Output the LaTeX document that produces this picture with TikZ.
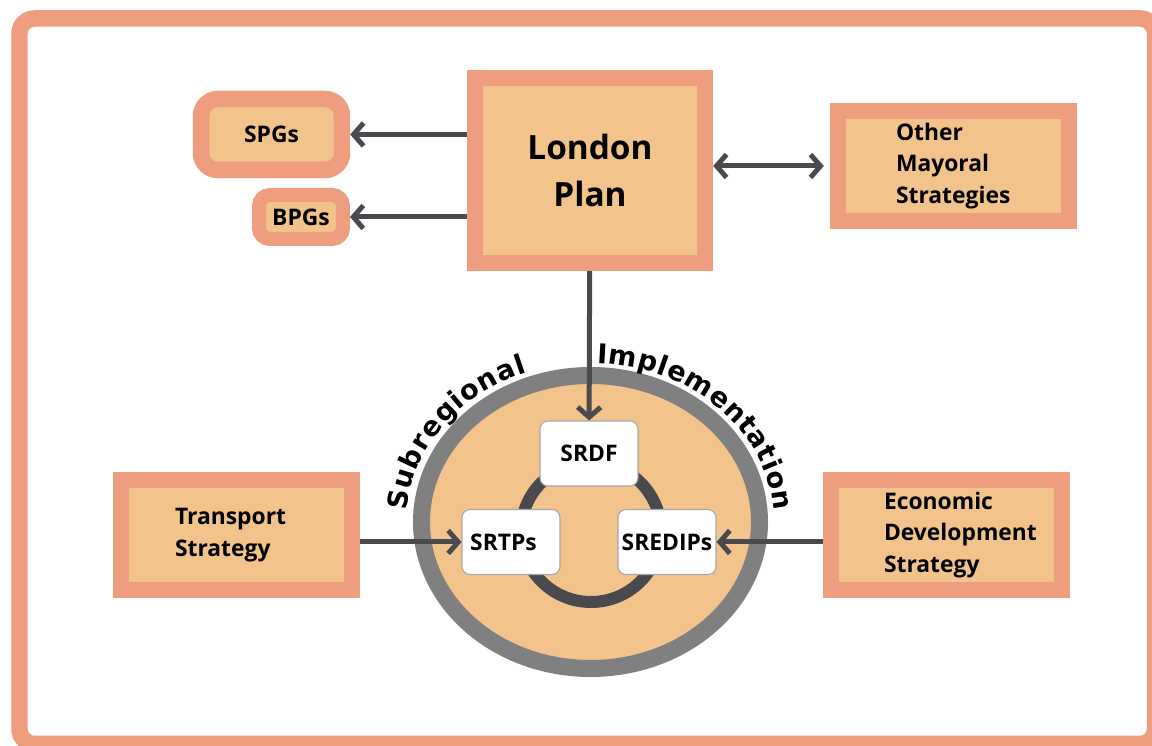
\documentclass[tikz,border=0pt]{standalone}
\usepackage{fontspec}
\setmainfont{Open Sans}
\newfontfamily\arcfamily{DejaVu Sans}
\usetikzlibrary{arrows.meta,decorations.text}
\definecolor{salmon}{RGB}{238,157,127}
\definecolor{tan}{RGB}{243,195,140}
\definecolor{ring}{RGB}{128,128,128}
\definecolor{dark}{RGB}{72,74,77}
\newcommand\arcfont{\arcfamily\bfseries\fontsize{15.5}{16}\selectfont}
\hyphenpenalty=10000
\begin{document}
\begin{tikzpicture}[x=0.02cm,y=0.02cm,
  plan/.style={draw=salmon,fill=tan,line width=0.33cm,inner sep=0pt,
    font=\bfseries\fontsize{13}{18}\selectfont},
  sub/.style={draw=black!35,fill=white,rounded corners=0.16cm,line width=0.6pt,
    minimum width=1.96cm,minimum height=1.3cm,inner sep=0pt,
    font=\bfseries\fontsize{13}{18}\selectfont},
  barb/.tip={Straight Barb[length=0.2cm,width=0.46cm]},
  arr/.style={dark,line width=0.1cm,-barb},
  both/.style={dark,line width=0.1cm,barb-barb,shorten >=0.12cm}]
  \useasboundingbox (0,0) rectangle (1152,746);
  \draw[salmon,line width=0.33cm,rounded corners=0.3cm] (19.5,2) rectangle (1155,727.5);

  \draw[ring,fill=tan,line width=0.34cm] (590.5,224) ellipse [x radius=169, y radius=146.5];
  \draw[dark,line width=0.24cm] (591,214) circle [radius=70];

  \node[sub] (SRDF) at (589,292.5) {SRDF};
  \node[sub] (SRTPs) at (511,204) {SRTPs\hspace*{0.3cm}};
  \node[sub] (SREDIPs) at (667,204) {SREDIPs};

  \node[plan,minimum width=4.6cm,minimum height=3.7cm,align=center,
    font=\bfseries\fontsize{19}{27}\selectfont] (London) at (590,575.5) {London\\Plan};
  \node[plan,rounded corners=0.34cm,minimum width=2.82cm,minimum height=1.42cm] (SPGs) at (271.5,611.5) {SPGs};
  \node[plan,rounded corners=0.22cm,line width=0.28cm,minimum width=1.68cm,minimum height=0.88cm] (BPGs) at (301,529) {BPGs};
  \node[plan,minimum width=4.62cm,minimum height=2.2cm,align=left,text width=2.3cm] (Other) at (953.5,580) {Other\\Mayoral\\Strategies};
  \node[plan,minimum width=4.62cm,minimum height=2.2cm,align=left,text width=2.46cm] (Transport) at (236.5,211) {Transport\\Strategy};
  \node[plan,minimum width=4.62cm,minimum height=2.2cm,align=left,text width=2.5cm] (Economic) at (946.5,211) {Economic\\Development\\Strategy};

  \path[arr] (London.west |- SPGs) edge (SPGs)
             (London.west |- BPGs) edge (BPGs)
             (London) edge (SRDF)
             (Transport.east |- SRTPs) edge (SRTPs)
             (Economic.west |- SREDIPs) edge (SREDIPs);
  \path[both] (London.east |- Other) edge (Other);

  \path[decorate,decoration={text along path,text={|\arcfont|Subregional},text align=fit to path}]
    (590.5,224) ++(176:184 and 159) arc[start angle=176,end angle=110,x radius=184,y radius=159];
  \path[decorate,decoration={text along path,text={|\arcfont|Implementation},text align=fit to path}]
    (590.5,224) ++(88:184 and 159) arc[start angle=88,end angle=4,x radius=184,y radius=159];
\end{tikzpicture}
\end{document}
